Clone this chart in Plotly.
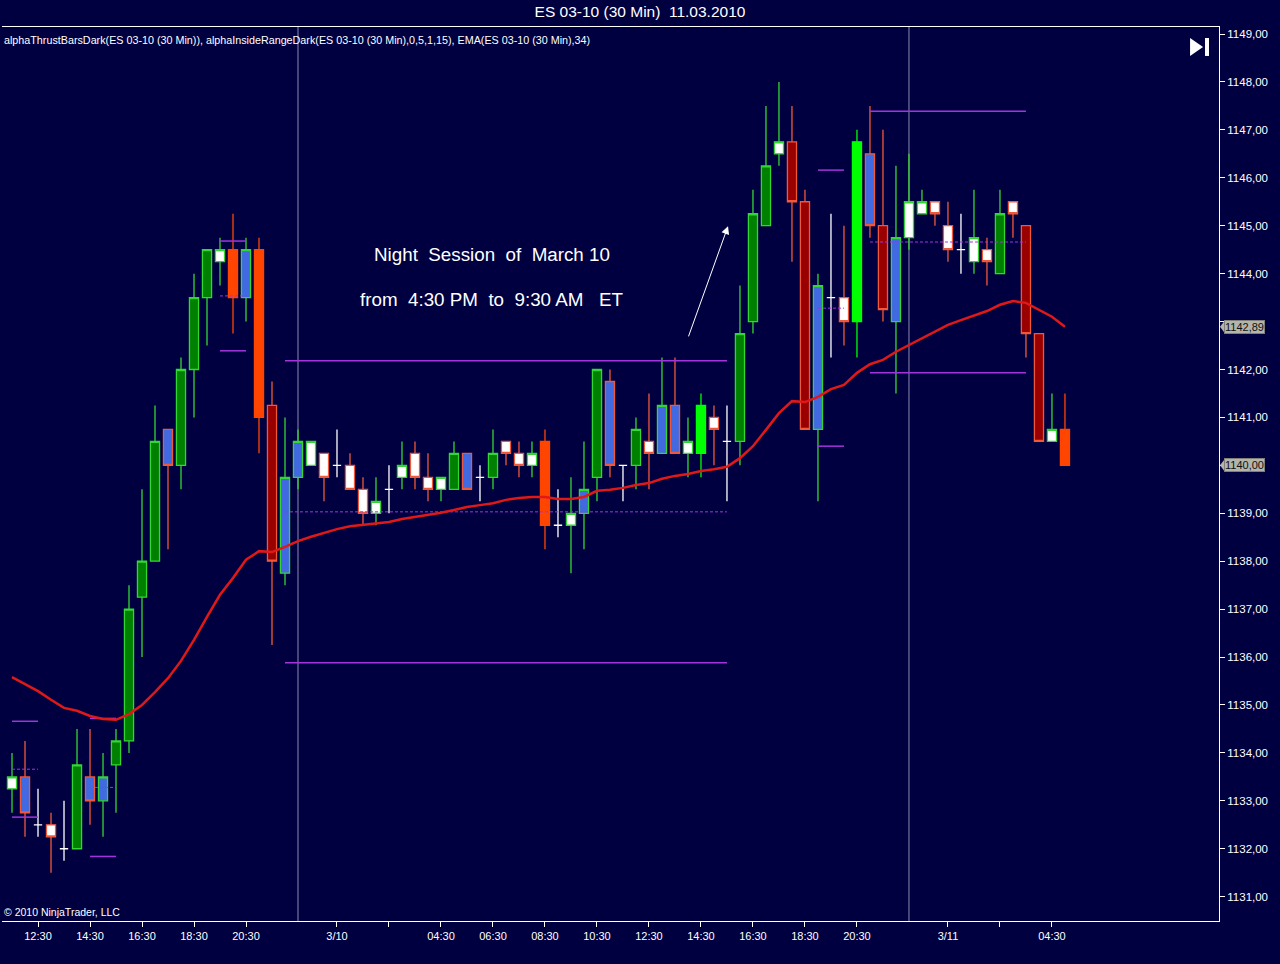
import plotly.graph_objects as go

# ---------------- data ----------------
bar_index = list(range(82))
opens = [1133.25, 1133.5, 1132.5, 1132.5, 1132.0, 1132.0, 1133.5, 1133.0, 1133.75, 1134.25,
         1137.25, 1138.0, 1140.75, 1140.0, 1142.0, 1143.5, 1144.25, 1144.5, 1143.5, 1144.5,
         1141.25, 1137.75, 1139.75, 1140.0, 1140.25, 1140.0, 1140.0, 1139.5, 1139.0, 1139.5,
         1139.75, 1140.25, 1139.75, 1139.5, 1139.5, 1140.25, 1139.75, 1139.75, 1140.5, 1140.25,
         1140.0, 1140.5, 1138.75, 1138.75, 1139.0, 1139.75, 1141.75, 1140.0, 1140.0, 1140.5,
         1140.25, 1141.25, 1140.25, 1140.25, 1141.0, 1140.5, 1140.5, 1143.0, 1145.0, 1146.5,
         1146.75, 1145.5, 1140.75, 1143.5, 1143.5, 1143.0, 1146.5, 1145.0, 1143.0, 1144.75,
         1145.25, 1145.5, 1145.0, 1144.5, 1144.25, 1144.5, 1144.0, 1145.5, 1145.0, 1142.75,
         1140.5, 1140.75]
highs = [1134.0, 1134.25, 1133.25, 1132.75, 1133.0, 1134.5, 1134.5, 1134.0, 1134.5, 1137.5,
         1139.5, 1141.25, 1140.75, 1142.25, 1144.0, 1144.5, 1144.75, 1145.25, 1144.75, 1144.75,
         1141.75, 1141.0, 1140.75, 1140.5, 1140.25, 1140.75, 1140.25, 1139.75, 1139.75, 1140.0,
         1140.5, 1140.5, 1140.25, 1139.75, 1140.5, 1140.25, 1140.0, 1140.75, 1140.5, 1140.5,
         1140.5, 1140.75, 1139.5, 1139.75, 1140.5, 1142.0, 1142.0, 1140.0, 1141.0, 1141.5,
         1142.25, 1142.25, 1141.0, 1141.5, 1141.25, 1141.25, 1143.75, 1145.75, 1147.5, 1148.0,
         1147.5, 1145.75, 1144.0, 1145.25, 1145.0, 1147.0, 1147.5, 1147.0, 1146.25, 1146.5,
         1145.75, 1145.5, 1145.5, 1145.25, 1145.75, 1144.75, 1145.75, 1145.5, 1145.0, 1142.75,
         1141.5, 1141.5]
lows = [1132.75, 1132.25, 1132.25, 1131.5, 1131.75, 1132.0, 1132.5, 1132.25, 1132.75, 1134.0,
        1136.0, 1138.0, 1138.25, 1139.5, 1141.0, 1142.5, 1143.75, 1142.75, 1143.0, 1140.25,
        1136.25, 1137.5, 1139.5, 1140.0, 1139.25, 1139.75, 1139.5, 1138.75, 1138.75, 1139.0,
        1139.5, 1139.5, 1139.25, 1139.25, 1139.5, 1139.5, 1139.25, 1139.5, 1140.0, 1139.75,
        1139.75, 1138.25, 1138.5, 1137.75, 1138.25, 1139.25, 1139.75, 1139.25, 1139.5, 1139.5,
        1140.25, 1140.25, 1139.75, 1139.75, 1140.0, 1139.25, 1140.0, 1142.75, 1145.0, 1146.25,
        1144.25, 1140.75, 1139.25, 1142.25, 1142.5, 1142.25, 1144.75, 1143.0, 1141.5, 1144.5,
        1145.25, 1145.0, 1144.25, 1144.0, 1144.0, 1143.75, 1144.0, 1144.75, 1142.25, 1140.5,
        1140.5, 1140.0]
closes = [1133.5, 1132.75, 1132.5, 1132.25, 1132.0, 1133.75, 1133.0, 1133.5, 1134.25, 1137.0,
          1138.0, 1140.5, 1140.0, 1142.0, 1143.5, 1144.5, 1144.5, 1143.5, 1144.5, 1141.0,
          1138.0, 1139.75, 1140.5, 1140.5, 1139.75, 1140.0, 1139.5, 1139.0, 1139.25, 1139.5,
          1140.0, 1139.75, 1139.5, 1139.75, 1140.25, 1139.5, 1139.75, 1140.25, 1140.25, 1140.0,
          1140.25, 1138.75, 1138.75, 1139.0, 1139.5, 1142.0, 1140.0, 1140.0, 1140.75, 1140.25,
          1141.25, 1140.25, 1140.5, 1141.25, 1140.75, 1140.5, 1142.75, 1145.25, 1146.25, 1146.75,
          1145.5, 1140.75, 1143.75, 1143.5, 1143.0, 1146.75, 1145.0, 1143.25, 1144.75, 1145.5,
          1145.5, 1145.25, 1144.5, 1144.5, 1144.75, 1144.25, 1145.25, 1145.25, 1142.75, 1140.5,
          1140.75, 1140.0]
# bar colouring from alphaThrustBars / alphaInsideRange
bar_types = ["wup", "bdn", "doji", "wdn", "doji", "up", "bdn", "bup", "up", "up",
             "up", "up", "bdn", "up", "up", "up", "wup", "odn", "bup", "odn",
             "rdn", "bup", "bup", "wup", "wdn", "doji", "wdn", "wdn", "wup", "doji",
             "wup", "wdn", "wdn", "wup", "up", "bdn", "doji", "up", "wdn", "wdn",
             "wup", "odn", "doji", "wup", "bup", "up", "bdn", "doji", "up", "wdn",
             "bup", "bdn", "wup", "lime", "wdn", "doji", "up", "up", "up", "wup",
             "rdn", "rdn", "bup", "doji", "wdn", "lime", "bdn", "rdn", "bup", "wup",
             "wup", "wdn", "wdn", "doji", "wup", "wdn", "up", "wdn", "rdn", "rdn",
             "wup", "odn"]
ema34 = [1135.58, 1135.44, 1135.29, 1135.11, 1134.94, 1134.88, 1134.77, 1134.71, 1134.69, 1134.81,
         1135.00, 1135.27, 1135.56, 1135.92, 1136.36, 1136.84, 1137.30, 1137.65, 1138.03, 1138.21,
         1138.19, 1138.30, 1138.42, 1138.51, 1138.59, 1138.67, 1138.73, 1138.76, 1138.78, 1138.82,
         1138.88, 1138.92, 1138.96, 1139.01, 1139.07, 1139.13, 1139.17, 1139.21, 1139.28, 1139.32,
         1139.34, 1139.34, 1139.30, 1139.30, 1139.34, 1139.47, 1139.49, 1139.53, 1139.59, 1139.63,
         1139.72, 1139.78, 1139.82, 1139.88, 1139.92, 1139.97, 1140.15, 1140.40, 1140.74, 1141.09,
         1141.34, 1141.32, 1141.43, 1141.59, 1141.68, 1141.93, 1142.11, 1142.20, 1142.37, 1142.51,
         1142.66, 1142.80, 1142.93, 1143.03, 1143.12, 1143.22, 1143.35, 1143.43, 1143.39, 1143.24,
         1143.10, 1142.89]

tick_index = [2, 6, 10, 14, 18, 25, 29, 33, 37, 41, 45, 49, 53, 57, 61, 65, 72, 76, 80]
tick_labels = ["12:30", "14:30", "16:30", "18:30", "20:30", "3/10", "", "04:30", "06:30",
               "08:30", "10:30", "12:30", "14:30", "16:30", "18:30", "20:30", "3/11", "", "04:30"]
price_ticks = list(range(1131, 1150))
session_breaks = [22, 69]

# inside-range levels (alphaInsideRange)
range_start = [0, 6, 16, 21, 62, 66]
range_end = [2, 8, 18, 55, 64, 78]
range_high = [1134.66, 1134.72, 1144.68, 1142.18, 1146.16, 1147.39]
range_low = [1132.66, 1131.84, 1142.39, 1135.88, 1140.40, 1141.93]

# ---------------- styles ----------------
BG = "#000040"
FONT = "Liberation Sans, Arial"
GREEN_LINE = "#33D633"
RED_LINE = "#F0583A"
styles = {
    "up":   ("#008000", GREEN_LINE),
    "lime": ("#00FF00", "#00FF00"),
    "wup":  ("#FFFFFF", GREEN_LINE),
    "wdn":  ("#FFFFFF", RED_LINE),
    "bup":  ("#4169E1", GREEN_LINE),
    "bdn":  ("#4169E1", RED_LINE),
    "odn":  ("#FF4500", "#FF4500"),
    "rdn":  ("#990000", RED_LINE),
}

fig = go.Figure()

for key, (fill, line) in styles.items():
    idx = [i for i, t in enumerate(bar_types) if t == key]
    if not idx:
        continue
    side = dict(fillcolor=fill, line=dict(color=line, width=1.3))
    fig.add_trace(go.Candlestick(
        x=[bar_index[i] for i in idx],
        open=[opens[i] for i in idx], high=[highs[i] for i in idx],
        low=[lows[i] for i in idx], close=[closes[i] for i in idx],
        increasing=side, decreasing=side, whiskerwidth=0,
        showlegend=False, hoverinfo="skip"))

doji = [i for i, t in enumerate(bar_types) if t == "doji"]
fig.add_trace(go.Ohlc(
    x=[bar_index[i] for i in doji],
    open=[opens[i] for i in doji], high=[highs[i] for i in doji],
    low=[lows[i] for i in doji], close=[closes[i] for i in doji],
    increasing=dict(line=dict(color="white", width=1.3)),
    decreasing=dict(line=dict(color="white", width=1.3)),
    tickwidth=0.16, showlegend=False, hoverinfo="skip"))

# inside range lines
PURPLE = "#A334DB"
sx, sy, dx, dy = [], [], [], []
for s, e, h, l in zip(range_start, range_end, range_high, range_low):
    sx += [s, e, None, s, e, None]
    sy += [h, h, None, l, l, None]
    m = (h + l) / 2
    dx += [s, e, None]
    dy += [m, m, None]
fig.add_trace(go.Scatter(x=sx, y=sy, mode="lines", line=dict(color=PURPLE, width=1.5),
                         showlegend=False, hoverinfo="skip"))
fig.add_trace(go.Scatter(x=dx, y=dy, mode="lines",
                         line=dict(color=PURPLE, width=1, dash="3px,2px"),
                         showlegend=False, hoverinfo="skip"))

# EMA
fig.add_trace(go.Scatter(x=bar_index, y=ema34, mode="lines",
                         line=dict(color="#E01818", width=2.5),
                         showlegend=False, hoverinfo="skip"))

# session separators
for b in session_breaks:
    fig.add_shape(type="line", xref="x", yref="paper", x0=b, x1=b, y0=0, y1=1,
                  line=dict(color="#8A8AB0", width=1), layer="below")

nb = "\u00a0"
fig.add_annotation(x=36.9, y=1144.39, xref="x", yref="y", showarrow=False,
                   text="Night" + nb + " Session" + nb + " of" + nb + " March 10",
                   font=dict(color="white", size=18.8, family=FONT))
fig.add_annotation(x=36.9, y=1143.47, xref="x", yref="y", showarrow=False,
                   text="from" + nb + " 4:30 PM" + nb + " to" + nb + " 9:30 AM" + nb + nb + " ET",
                   font=dict(color="white", size=18.8, family=FONT))
fig.add_annotation(x=55.08, y=1144.99, ax=52.0, ay=1142.66, xref="x", yref="y",
                   axref="x", ayref="y", text="", showarrow=True, arrowhead=2,
                   arrowsize=1.6, arrowwidth=1, arrowcolor="white")

# indicator text & copyright
fig.add_annotation(x=0, y=1, xref="paper", yref="paper", xanchor="left", yanchor="top",
                   yshift=-5, showarrow=False,
                   text="alphaThrustBarsDark(ES 03-10 (30 Min)), alphaInsideRangeDark(ES 03-10 (30 Min),0,5,1,15), EMA(ES 03-10 (30 Min),34)",
                   font=dict(color="white", size=10.75, family=FONT))
fig.add_annotation(x=0, y=0, xref="paper", yref="paper", xanchor="left", yanchor="bottom",
                   yshift=1, showarrow=False, text="© 2010 NinjaTrader, LLC",
                   font=dict(color="white", size=10.5, family=FONT))

# price tags on the right axis (they cover the axis labels beneath them)
tag_values = [ema34[-1], closes[-1]]
for val in tag_values:
    fig.add_annotation(x=1, y=val, xref="paper", yref="y", xanchor="left", yanchor="middle",
                       xshift=5, showarrow=False, text=f"{val:.2f}".replace(".", ","),
                       bgcolor="#B4B4AA", bordercolor="#808078", borderwidth=1, borderpad=0,
                       font=dict(color="#101010", size=11, family=FONT))
    fig.add_shape(type="path", xref="paper", yref="y",
                  path=f"M 1.0008,{val} L 1.0050,{val + 0.14} L 1.0050,{val - 0.14} Z",
                  fillcolor="#B4B4AA", line=dict(width=0), layer="above")

price_labels = ["" if any(abs(p - v) < 0.3 for v in tag_values) else f"{p},00"
                for p in price_ticks]

# "go to end" icon
fig.add_shape(type="path", xref="paper", yref="paper",
              path="M 0.9762,0.9877 L 0.9762,0.9676 L 0.9869,0.9776 Z",
              fillcolor="white", line=dict(width=0))
fig.add_shape(type="rect", xref="paper", yref="paper", x0=0.9885, x1=0.9918,
              y0=0.9676, y1=0.9877, fillcolor="white", line=dict(width=0))

fig.update_layout(
    width=1280, height=964,
    margin=dict(l=2, r=61, t=27, b=43),
    paper_bgcolor=BG, plot_bgcolor=BG,
    separators=", ",
    boxgap=0.3, boxgroupgap=0.0,
    hovermode=False,
    font=dict(family=FONT, color="white", size=11),
    title=dict(text="ES 03-10 (30 Min)" + nb + " 11.03.2010", x=0.5, xref="container",
               y=1 - 12 / 964, yref="container", xanchor="center", yanchor="middle",
               font=dict(size=15.5, color="white")),
)
fig.update_xaxes(type="linear", range=[-0.77, 92.85], rangeslider=dict(visible=False),
                 tickvals=tick_index, ticktext=tick_labels, ticks="outside", ticklen=5,
                 tickcolor="white", showline=True, linecolor="white", linewidth=1,
                 mirror=True, showgrid=False, zeroline=False,
                 tickfont=dict(size=11, color="white"))
fig.update_yaxes(side="right", range=[1130.493, 1149.146], tickvals=price_ticks,
                 ticktext=price_labels, ticks="outside", ticklen=5, tickcolor="white",
                 showline=True, linecolor="white", linewidth=1, showgrid=False,
                 zeroline=False, tickfont=dict(size=11.5, color="white"))

fig.write_html("out.html", config={"displayModeBar": False},
               post_script="document.body.style.margin='0px';document.body.style.background='" + BG + "';")
